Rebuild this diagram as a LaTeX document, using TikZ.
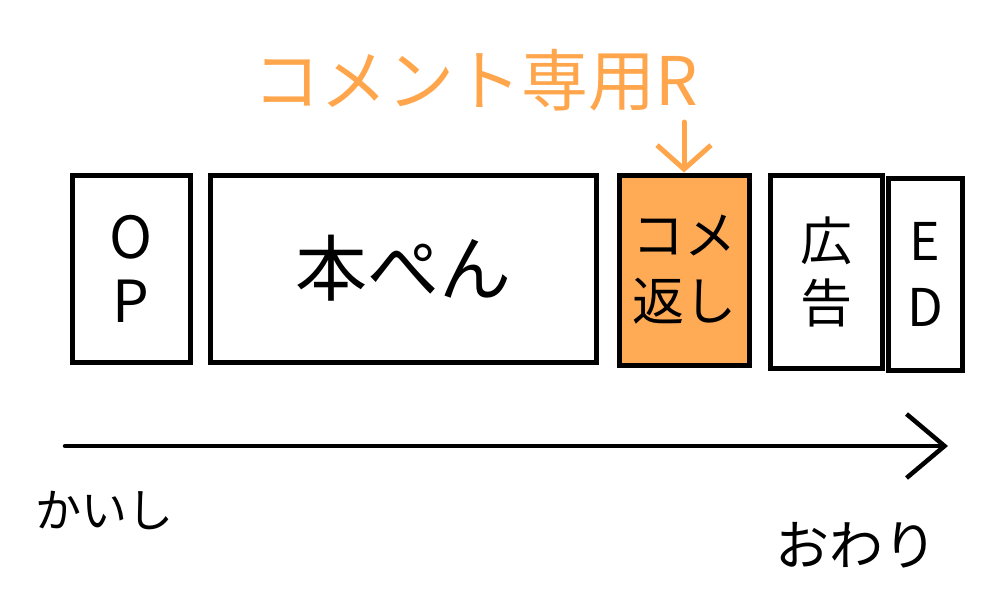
\documentclass[tikz,border=0pt]{standalone}
\usepackage{fontspec}
\setmainfont{Noto Sans CJK JP}
\usetikzlibrary{arrows.meta}
\definecolor{hlorange}{HTML}{FFA64D}
\definecolor{hlfill}{HTML}{FFAA55}
\tikzset{
  seg/.style={draw=black, line width=5pt, inner sep=0pt, align=center},
  lbl/.style={inner sep=0pt, align=center},
}
\begin{document}
\begin{tikzpicture}[x=1pt,y=-1pt]
\useasboundingbox (0,0) rectangle (1000,600);
\node[seg, minimum width=118pt, minimum height=187pt, font=\fontsize{58}{64}\selectfont] (op) at (131,268.5) {O\\P};
\node[seg, minimum width=386pt, minimum height=187pt, font=\fontsize{72}{80}\selectfont] (main) at (403,268.5) {本ぺん};
\node[seg, fill=hlfill, minimum width=130pt, minimum height=190pt, font=\fontsize{52}{66}\selectfont] (kome) at (684,270) {コメ\\返し};
\node[seg, minimum width=112pt, minimum height=193pt, font=\fontsize{52}{62}\selectfont] (ad) at (826,271.5) {広\\告};
\node[seg, minimum width=74pt, minimum height=192pt, font=\fontsize{52}{66}\selectfont] (ed) at (925,274) {E\\D};
\node[lbl, text=hlorange, font=\fontsize{67}{72}\selectfont] (title) at (476,80) {コメント専用R};
\coordinate (ta) at (684,122);
\draw[hlorange, line width=5pt, line cap=round, -{Straight Barb[length=24pt,width=54pt,line width=5pt]}] (ta) -- (kome.north);
\coordinate (as) at (65,446);
\coordinate (ae) at (948,446);
\draw[black, line width=4.5pt, line cap=round, -{Straight Barb[length=38pt,width=64pt,line width=4.5pt]}] (as) -- (ae);
\node[lbl, font=\fontsize{46}{50}\selectfont] (start) at (104,510) {かいし};
\node[lbl, font=\fontsize{54}{60}\selectfont] (end) at (856,545) {おわり};
\end{tikzpicture}
\end{document}
